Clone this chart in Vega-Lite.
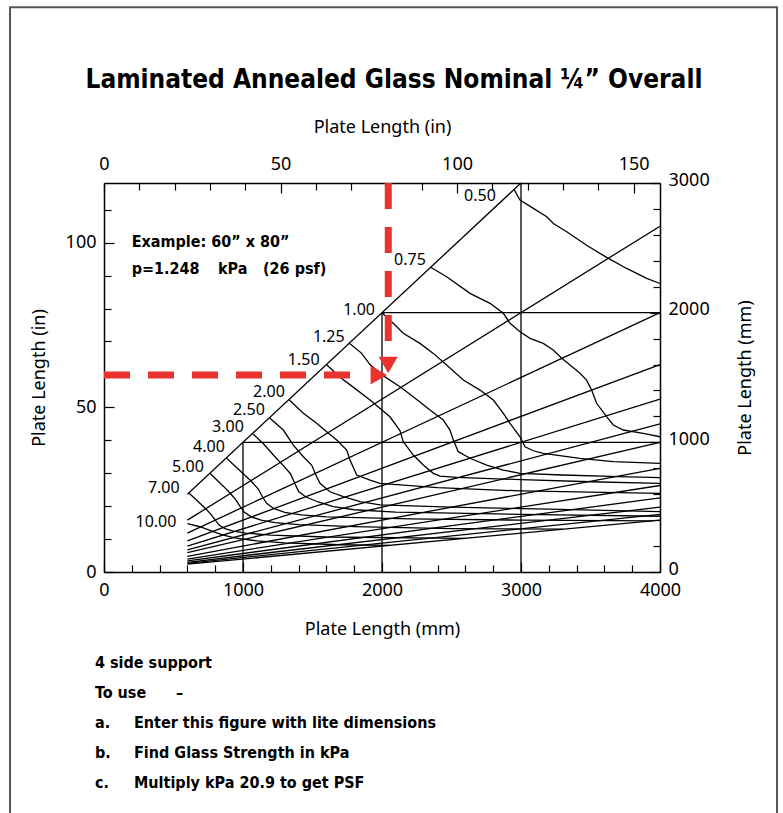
{
  "$schema": "https://vega.github.io/schema/vega-lite/v6.json",
  "width": 556,
  "height": 389,
  "autosize": {"type": "none"},
  "padding": {"left": 104, "top": 183, "right": 123, "bottom": 241},
  "background": "white",
  "config": {
    "view": {"stroke": null},
    "axis": {
      "domainColor": "black",
      "domainWidth": 1.5,
      "tickColor": "black",
      "tickWidth": 1.2,
      "labelColor": "black",
      "labelFont": "Noto Sans",
      "labelFontSize": 18,
      "titleFont": "Noto Sans",
      "titleFontSize": 18,
      "titleFontWeight": "normal",
      "titleColor": "black",
      "grid": false,
      "labelFlush": false,
      "labelOverlap": false
    }
  },
  "datasets": {
    "lines": [
      {"g": "diag", "o": 0, "x": 600, "y": 600}, {"g": "diag", "o": 1, "x": 3000, "y": 3000},
      {"g": "v1000", "o": 0, "x": 1000, "y": 0}, {"g": "v1000", "o": 1, "x": 1000, "y": 1000},
      {"g": "h1000", "o": 0, "x": 1000, "y": 1000}, {"g": "h1000", "o": 1, "x": 4000, "y": 1000},
      {"g": "v2000", "o": 0, "x": 2000, "y": 0}, {"g": "v2000", "o": 1, "x": 2000, "y": 2000},
      {"g": "h2000", "o": 0, "x": 2000, "y": 2000}, {"g": "h2000", "o": 1, "x": 4000, "y": 2000},
      {"g": "v3000", "o": 0, "x": 3000, "y": 0}, {"g": "v3000", "o": 1, "x": 3000, "y": 3000},
      {"g": "r1.5", "o": 0, "x": 600, "y": 400}, {"g": "r1.5", "o": 1, "x": 4000, "y": 2667},
      {"g": "r2", "o": 0, "x": 600, "y": 300}, {"g": "r2", "o": 1, "x": 4000, "y": 2000},
      {"g": "r2.5", "o": 0, "x": 600, "y": 240}, {"g": "r2.5", "o": 1, "x": 4000, "y": 1600},
      {"g": "r3", "o": 0, "x": 600, "y": 200}, {"g": "r3", "o": 1, "x": 4000, "y": 1333},
      {"g": "r3.5", "o": 0, "x": 600, "y": 171}, {"g": "r3.5", "o": 1, "x": 4000, "y": 1143},
      {"g": "r4", "o": 0, "x": 600, "y": 150}, {"g": "r4", "o": 1, "x": 4000, "y": 1000},
      {"g": "r5", "o": 0, "x": 600, "y": 120}, {"g": "r5", "o": 1, "x": 4000, "y": 800},
      {"g": "r6", "o": 0, "x": 600, "y": 100}, {"g": "r6", "o": 1, "x": 4000, "y": 667},
      {"g": "r7", "o": 0, "x": 600, "y": 86}, {"g": "r7", "o": 1, "x": 4000, "y": 571},
      {"g": "r8", "o": 0, "x": 600, "y": 75}, {"g": "r8", "o": 1, "x": 4000, "y": 500},
      {"g": "r9", "o": 0, "x": 600, "y": 67}, {"g": "r9", "o": 1, "x": 4000, "y": 444},
      {"g": "r10", "o": 0, "x": 600, "y": 60}, {"g": "r10", "o": 1, "x": 4000, "y": 400},
      {"g": "c050", "o": 0, "x": 2950, "y": 2950}, {"g": "c050", "o": 1, "x": 2993, "y": 2868}, {"g": "c050", "o": 2, "x": 3089, "y": 2804}, {"g": "c050", "o": 3, "x": 3185, "y": 2740}, {"g": "c050", "o": 4, "x": 3233, "y": 2688}, {"g": "c050", "o": 5, "x": 3329, "y": 2624}, {"g": "c050", "o": 6, "x": 3472, "y": 2520}, {"g": "c050", "o": 7, "x": 3616, "y": 2426}, {"g": "c050", "o": 8, "x": 3760, "y": 2341}, {"g": "c050", "o": 9, "x": 3904, "y": 2264}, {"g": "c050", "o": 10, "x": 4000, "y": 2225},
      {"g": "c075", "o": 0, "x": 2350, "y": 2350}, {"g": "c075", "o": 1, "x": 2465, "y": 2277}, {"g": "c075", "o": 2, "x": 2633, "y": 2149}, {"g": "c075", "o": 3, "x": 2777, "y": 2072}, {"g": "c075", "o": 4, "x": 2873, "y": 1995}, {"g": "c075", "o": 5, "x": 2921, "y": 1918}, {"g": "c075", "o": 6, "x": 2993, "y": 1853}, {"g": "c075", "o": 7, "x": 3065, "y": 1802}, {"g": "c075", "o": 8, "x": 3160, "y": 1763}, {"g": "c075", "o": 9, "x": 3232, "y": 1712}, {"g": "c075", "o": 10, "x": 3293, "y": 1648}, {"g": "c075", "o": 11, "x": 3353, "y": 1596}, {"g": "c075", "o": 12, "x": 3424, "y": 1532}, {"g": "c075", "o": 13, "x": 3472, "y": 1480}, {"g": "c075", "o": 14, "x": 3508, "y": 1403}, {"g": "c075", "o": 15, "x": 3544, "y": 1301}, {"g": "c075", "o": 16, "x": 3616, "y": 1198}, {"g": "c075", "o": 17, "x": 3664, "y": 1134}, {"g": "c075", "o": 18, "x": 3736, "y": 1095}, {"g": "c075", "o": 19, "x": 3880, "y": 1069}, {"g": "c075", "o": 20, "x": 4000, "y": 1043},
      {"g": "c100", "o": 0, "x": 2000, "y": 2000}, {"g": "c100", "o": 1, "x": 2081, "y": 1918}, {"g": "c100", "o": 2, "x": 2153, "y": 1841}, {"g": "c100", "o": 3, "x": 2273, "y": 1763}, {"g": "c100", "o": 4, "x": 2369, "y": 1686}, {"g": "c100", "o": 5, "x": 2465, "y": 1596}, {"g": "c100", "o": 6, "x": 2585, "y": 1480}, {"g": "c100", "o": 7, "x": 2705, "y": 1403}, {"g": "c100", "o": 8, "x": 2801, "y": 1326}, {"g": "c100", "o": 9, "x": 2873, "y": 1224}, {"g": "c100", "o": 10, "x": 2921, "y": 1147}, {"g": "c100", "o": 11, "x": 2993, "y": 1043}, {"g": "c100", "o": 12, "x": 3029, "y": 966}, {"g": "c100", "o": 13, "x": 3089, "y": 935}, {"g": "c100", "o": 14, "x": 3160, "y": 915}, {"g": "c100", "o": 15, "x": 3424, "y": 877}, {"g": "c100", "o": 16, "x": 3664, "y": 851}, {"g": "c100", "o": 17, "x": 4000, "y": 838},
      {"g": "c125", "o": 0, "x": 1765, "y": 1765}, {"g": "c125", "o": 1, "x": 1850, "y": 1690}, {"g": "c125", "o": 2, "x": 1914, "y": 1600}, {"g": "c125", "o": 3, "x": 2000, "y": 1520}, {"g": "c125", "o": 4, "x": 2129, "y": 1429}, {"g": "c125", "o": 5, "x": 2225, "y": 1352}, {"g": "c125", "o": 6, "x": 2345, "y": 1249}, {"g": "c125", "o": 7, "x": 2441, "y": 1172}, {"g": "c125", "o": 8, "x": 2489, "y": 1095}, {"g": "c125", "o": 9, "x": 2513, "y": 1018}, {"g": "c125", "o": 10, "x": 2549, "y": 928}, {"g": "c125", "o": 11, "x": 2633, "y": 877}, {"g": "c125", "o": 12, "x": 2753, "y": 825}, {"g": "c125", "o": 13, "x": 2873, "y": 786}, {"g": "c125", "o": 14, "x": 2993, "y": 761}, {"g": "c125", "o": 15, "x": 3300, "y": 748}, {"g": "c125", "o": 16, "x": 3700, "y": 735}, {"g": "c125", "o": 17, "x": 4000, "y": 728},
      {"g": "c150", "o": 0, "x": 1600, "y": 1600}, {"g": "c150", "o": 1, "x": 1700, "y": 1500}, {"g": "c150", "o": 2, "x": 1800, "y": 1420}, {"g": "c150", "o": 3, "x": 1914, "y": 1326}, {"g": "c150", "o": 4, "x": 2057, "y": 1197}, {"g": "c150", "o": 5, "x": 2129, "y": 1090}, {"g": "c150", "o": 6, "x": 2153, "y": 1005}, {"g": "c150", "o": 7, "x": 2225, "y": 902}, {"g": "c150", "o": 8, "x": 2297, "y": 825}, {"g": "c150", "o": 9, "x": 2369, "y": 761}, {"g": "c150", "o": 10, "x": 2417, "y": 740}, {"g": "c150", "o": 11, "x": 2537, "y": 730}, {"g": "c150", "o": 12, "x": 3000, "y": 712}, {"g": "c150", "o": 13, "x": 3500, "y": 696}, {"g": "c150", "o": 14, "x": 4000, "y": 684},
      {"g": "c200", "o": 0, "x": 1330, "y": 1330}, {"g": "c200", "o": 1, "x": 1434, "y": 1224}, {"g": "c200", "o": 2, "x": 1530, "y": 1147}, {"g": "c200", "o": 3, "x": 1602, "y": 1082}, {"g": "c200", "o": 4, "x": 1674, "y": 1018}, {"g": "c200", "o": 5, "x": 1746, "y": 941}, {"g": "c200", "o": 6, "x": 1770, "y": 864}, {"g": "c200", "o": 7, "x": 1818, "y": 748}, {"g": "c200", "o": 8, "x": 1914, "y": 709}, {"g": "c200", "o": 9, "x": 1986, "y": 684}, {"g": "c200", "o": 10, "x": 2400, "y": 650}, {"g": "c200", "o": 11, "x": 3000, "y": 625}, {"g": "c200", "o": 12, "x": 4000, "y": 606},
      {"g": "c250", "o": 0, "x": 1190, "y": 1190}, {"g": "c250", "o": 1, "x": 1290, "y": 1095}, {"g": "c250", "o": 2, "x": 1362, "y": 979}, {"g": "c250", "o": 3, "x": 1434, "y": 889}, {"g": "c250", "o": 4, "x": 1494, "y": 825}, {"g": "c250", "o": 5, "x": 1530, "y": 735}, {"g": "c250", "o": 6, "x": 1554, "y": 684}, {"g": "c250", "o": 7, "x": 1626, "y": 619}, {"g": "c250", "o": 8, "x": 1722, "y": 581}, {"g": "c250", "o": 9, "x": 1842, "y": 542}, {"g": "c250", "o": 10, "x": 1986, "y": 517}, {"g": "c250", "o": 11, "x": 2500, "y": 500}, {"g": "c250", "o": 12, "x": 3200, "y": 485}, {"g": "c250", "o": 13, "x": 4000, "y": 465},
      {"g": "c300", "o": 0, "x": 1068, "y": 1068}, {"g": "c300", "o": 1, "x": 1150, "y": 985}, {"g": "c300", "o": 2, "x": 1220, "y": 900}, {"g": "c300", "o": 3, "x": 1290, "y": 820}, {"g": "c300", "o": 4, "x": 1340, "y": 760}, {"g": "c300", "o": 5, "x": 1370, "y": 690}, {"g": "c300", "o": 6, "x": 1400, "y": 620}, {"g": "c300", "o": 7, "x": 1450, "y": 580}, {"g": "c300", "o": 8, "x": 1540, "y": 540}, {"g": "c300", "o": 9, "x": 1650, "y": 505}, {"g": "c300", "o": 10, "x": 1800, "y": 480}, {"g": "c300", "o": 11, "x": 2100, "y": 462}, {"g": "c300", "o": 12, "x": 3000, "y": 445}, {"g": "c300", "o": 13, "x": 4000, "y": 430},
      {"g": "c400", "o": 0, "x": 880, "y": 880}, {"g": "c400", "o": 1, "x": 940, "y": 820}, {"g": "c400", "o": 2, "x": 1000, "y": 760}, {"g": "c400", "o": 3, "x": 1060, "y": 700}, {"g": "c400", "o": 4, "x": 1110, "y": 640}, {"g": "c400", "o": 5, "x": 1140, "y": 580}, {"g": "c400", "o": 6, "x": 1170, "y": 530}, {"g": "c400", "o": 7, "x": 1220, "y": 490}, {"g": "c400", "o": 8, "x": 1300, "y": 460}, {"g": "c400", "o": 9, "x": 1420, "y": 440}, {"g": "c400", "o": 10, "x": 1600, "y": 425}, {"g": "c400", "o": 11, "x": 2200, "y": 410}, {"g": "c400", "o": 12, "x": 3000, "y": 400}, {"g": "c400", "o": 13, "x": 3950, "y": 395},
      {"g": "c500", "o": 0, "x": 762, "y": 762}, {"g": "c500", "o": 1, "x": 810, "y": 712}, {"g": "c500", "o": 2, "x": 860, "y": 660}, {"g": "c500", "o": 3, "x": 910, "y": 605}, {"g": "c500", "o": 4, "x": 950, "y": 555}, {"g": "c500", "o": 5, "x": 980, "y": 505}, {"g": "c500", "o": 6, "x": 1010, "y": 460}, {"g": "c500", "o": 7, "x": 1060, "y": 425}, {"g": "c500", "o": 8, "x": 1130, "y": 400}, {"g": "c500", "o": 9, "x": 1230, "y": 380}, {"g": "c500", "o": 10, "x": 1400, "y": 365}, {"g": "c500", "o": 11, "x": 1800, "y": 350}, {"g": "c500", "o": 12, "x": 2500, "y": 335}, {"g": "c500", "o": 13, "x": 3300, "y": 330},
      {"g": "c700", "o": 0, "x": 610, "y": 610}, {"g": "c700", "o": 1, "x": 650, "y": 570}, {"g": "c700", "o": 2, "x": 690, "y": 530}, {"g": "c700", "o": 3, "x": 730, "y": 490}, {"g": "c700", "o": 4, "x": 770, "y": 445}, {"g": "c700", "o": 5, "x": 800, "y": 400}, {"g": "c700", "o": 6, "x": 830, "y": 360}, {"g": "c700", "o": 7, "x": 870, "y": 335}, {"g": "c700", "o": 8, "x": 930, "y": 315}, {"g": "c700", "o": 9, "x": 1020, "y": 300}, {"g": "c700", "o": 10, "x": 1200, "y": 285}, {"g": "c700", "o": 11, "x": 1600, "y": 270}, {"g": "c700", "o": 12, "x": 2600, "y": 260},
      {"g": "c1000", "o": 0, "x": 600, "y": 374}, {"g": "c1000", "o": 1, "x": 690, "y": 349}, {"g": "c1000", "o": 2, "x": 786, "y": 311}, {"g": "c1000", "o": 3, "x": 858, "y": 285}, {"g": "c1000", "o": 4, "x": 950, "y": 262}, {"g": "c1000", "o": 5, "x": 1100, "y": 240}, {"g": "c1000", "o": 6, "x": 1300, "y": 225}, {"g": "c1000", "o": 7, "x": 1700, "y": 210}, {"g": "c1000", "o": 8, "x": 2050, "y": 205}
    ],
    "labels": [
      {"t": "0.50", "x": 2705, "y": 2903}, {"t": "0.75", "x": 2201, "y": 2406}, {"t": "1.00", "x": 1835, "y": 2020},
      {"t": "1.25", "x": 1617, "y": 1814}, {"t": "1.50", "x": 1437, "y": 1635}, {"t": "2.00", "x": 1187, "y": 1390},
      {"t": "2.50", "x": 1043, "y": 1249}, {"t": "3.00", "x": 892, "y": 1120}, {"t": "4.00", "x": 755, "y": 966},
      {"t": "5.00", "x": 604, "y": 812}, {"t": "7.00", "x": 430, "y": 645}, {"t": "10.00", "x": 374, "y": 388}
    ],
    "notes": [
      {"t": "Example: 60” x 80”", "x": 199, "y": 2547},
      {"t": "p=1.248", "x": 199, "y": 2336},
      {"t": "kPa", "x": 820, "y": 2336},
      {"t": "(26 psf)", "x": 1144, "y": 2336},
      {"t": "4 side support", "x": -65, "y": -702},
      {"t": "To use", "x": -65, "y": -933},
      {"t": "–", "x": 518, "y": -933},
      {"t": "a.", "x": -65, "y": -1164},
      {"t": "Enter this figure with lite dimensions", "x": 216, "y": -1164},
      {"t": "b.", "x": -65, "y": -1396},
      {"t": "Find Glass Strength in kPa", "x": 216, "y": -1396},
      {"t": "c.", "x": -65, "y": -1627},
      {"t": "Multiply  kPa 20.9 to get PSF", "x": 216, "y": -1627}
    ],
    "heading": [{"t": "Laminated Annealed Glass Nominal ¼” Overall", "x": 2086, "y": 3732}],
    "dash": [
      {"x": 2045, "y": 3000, "x2": 2045, "y2": 1766},
      {"x": 0, "y": 1520, "x2": 1770, "y2": 1520}
    ],
    "frame": [{"x": -676, "x2": 4842, "y": 4356, "y2": -2000}],
    "inch": [{"xi": 0, "yi": 0}, {"xi": 157.48, "yi": 118.11}]
  },
  "layer": [
    {
      "encoding": {
        "x": {
          "field": "x", "type": "quantitative",
          "scale": {"domain": [0, 4000], "nice": false, "zero": false},
          "axis": {
            "orient": "bottom",
            "title": "Plate Length (mm)",
            "values": [0, 200, 400, 600, 800, 1000, 1200, 1400, 1600, 1800, 2000, 2200, 2400, 2600, 2800, 3000, 3200, 3400, 3600, 3800, 4000],
            "format": "d",
            "labelExpr": "datum.value % 1000 === 0 ? datum.label : ''",
            "tickSize": {"condition": {"test": "datum.value % 1000 === 0", "value": -10}, "value": -7},
            "labelOverlap": false,
            "labelFlush": false,
            "labelPadding": 19,
            "titlePadding": 18
          }
        },
        "y": {
          "field": "y", "type": "quantitative",
          "scale": {"domain": [0, 3000], "nice": false, "zero": false},
          "axis": {
            "orient": "right",
            "title": "Plate Length (mm)",
            "titleAngle": 270,
            "values": [0, 200, 400, 600, 800, 1000, 1200, 1400, 1600, 1800, 2000, 2200, 2400, 2600, 2800, 3000],
            "format": "d",
            "labelExpr": "datum.value % 1000 === 0 ? datum.label : ''",
            "tickSize": {"condition": {"test": "datum.value % 1000 === 0", "value": -10}, "value": -7},
            "labelOverlap": false,
            "labelFlush": false,
            "labelPadding": 18,
            "labelOffset": -3,
            "titlePadding": 45
          }
        }
      },
      "layer": [
        {
          "data": {"name": "lines"},
          "mark": {"type": "line", "color": "black", "strokeWidth": 1.3},
          "encoding": {
            "detail": {"field": "g"},
            "order": {"field": "o"}
          }
        },
        {
          "data": {"name": "frame"},
          "mark": {"type": "rect", "fillOpacity": 0, "stroke": "#555555", "strokeWidth": 2},
          "encoding": {"x2": {"field": "x2"}, "y2": {"field": "y2"}}
        },
        {
          "data": {"name": "dash"},
          "mark": {"type": "rule", "color": "#e8332f", "strokeWidth": 7, "strokeDash": [26, 18], "strokeCap": "butt"},
          "encoding": {"x2": {"field": "x2"}, "y2": {"field": "y2"}}
        },
        {
          "data": {"values": [{"x": 2045, "y": 1596}]},
          "mark": {"type": "point", "shape": "triangle-down", "size": 360, "filled": true, "color": "#e8332f", "opacity": 1},
          "encoding": {}
        },
        {
          "data": {"values": [{"x": 1977, "y": 1520}]},
          "mark": {"type": "point", "shape": "triangle-right", "size": 360, "filled": true, "color": "#e8332f", "opacity": 1},
          "encoding": {}
        },
        {
          "data": {"name": "labels"},
          "mark": {"type": "text", "font": "Noto Sans", "fontSize": 16, "color": "black", "align": "center", "baseline": "middle"},
          "encoding": {"text": {"field": "t"}}
        },
        {
          "data": {"name": "notes"},
          "mark": {"type": "text", "font": "DejaVu Sans Condensed, Liberation Sans, sans-serif", "fontWeight": "bold", "fontSize": 16, "color": "black", "align": "left", "baseline": "middle"},
          "encoding": {"text": {"field": "t"}}
        },
        {
          "data": {"name": "heading"},
          "mark": {"type": "text", "font": "DejaVu Sans Condensed, Liberation Sans, sans-serif", "fontWeight": "bold", "fontSize": 26, "color": "black", "align": "center", "baseline": "alphabetic"},
          "encoding": {"text": {"field": "t"}}
        }
      ]
    },
    {
      "data": {"name": "inch"},
      "mark": {"type": "point", "opacity": 0},
      "encoding": {
        "x": {
          "field": "xi", "type": "quantitative",
          "scale": {"domain": [0, 157.48], "nice": false, "zero": false},
          "axis": {
            "orient": "top",
            "title": "Plate Length (in)",
            "values": [0, 10, 20, 30, 40, 50, 60, 70, 80, 90, 100, 110, 120, 130, 140, 150],
            "labelExpr": "datum.value % 50 === 0 ? datum.label : ''",
            "tickSize": {"condition": {"test": "datum.value % 50 === 0", "value": -10}, "value": -7},
            "labelOverlap": false,
            "labelFlush": false,
            "labelPadding": 20,
            "titlePadding": 16
          }
        },
        "y": {
          "field": "yi", "type": "quantitative",
          "scale": {"domain": [0, 118.11], "nice": false, "zero": false},
          "axis": {
            "orient": "left",
            "title": "Plate Length (in)",
            "values": [0, 10, 20, 30, 40, 50, 60, 70, 80, 90, 100, 110],
            "labelExpr": "datum.value % 50 === 0 ? datum.label : ''",
            "tickSize": {"condition": {"test": "datum.value % 50 === 0", "value": -10}, "value": -7},
            "labelOverlap": false,
            "labelFlush": false,
            "labelPadding": 18,
            "titlePadding": 17
          }
        }
      }
    }
  ],
  "resolve": {"scale": {"x": "independent", "y": "independent"}, "axis": {"x": "independent", "y": "independent"}}
}
